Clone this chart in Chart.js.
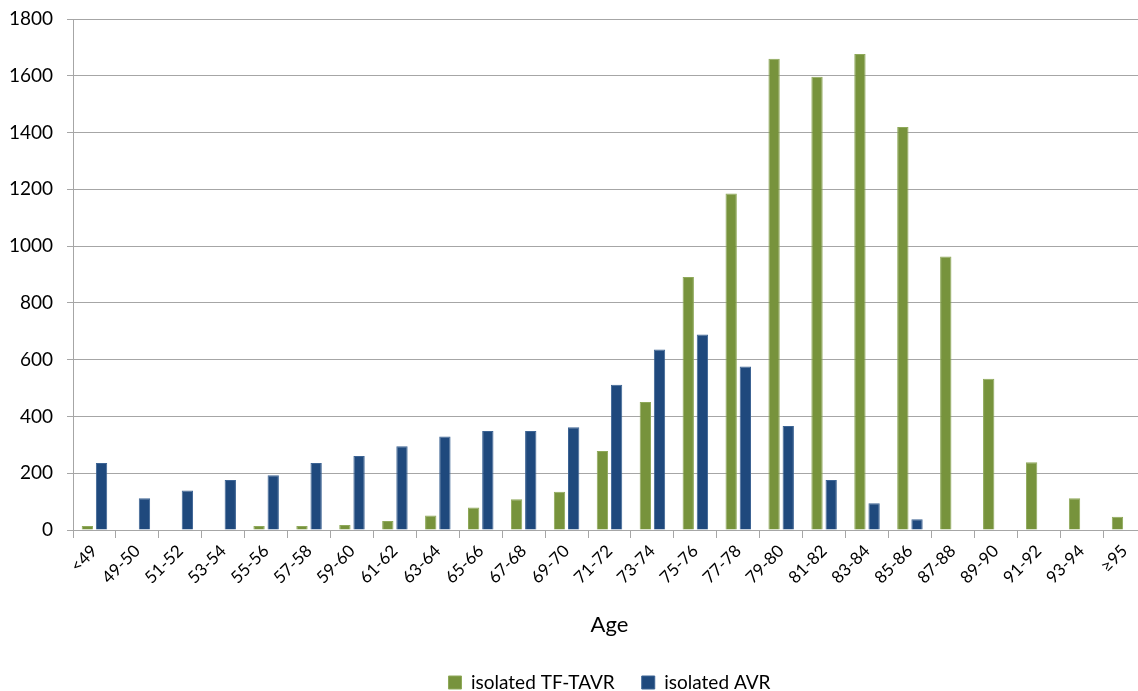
<!DOCTYPE html>
<html>
<head>
<meta charset="utf-8">
<script src="https://cdn.jsdelivr.net/npm/chart.js@4"></script>
<style>
  html, body { margin: 0; padding: 0; background: #fff; overflow: hidden; }
  #wrap { width: 1150px; height: 691px; }
</style>
</head>
<body>
<div id="wrap"><canvas id="ageChart"></canvas></div>
<script>
// age groups
const ageGroups = ['<49', '49-50', '51-52', '53-54', '55-56', '57-58', '59-60', '61-62', '63-64',
  '65-66', '67-68', '69-70', '71-72', '73-74', '75-76', '77-78', '79-80', '81-82', '83-84',
  '85-86', '87-88', '89-90', '91-92', '93-94', '≥95'];

// counts
const tavrValues = [14, 0, 0, 0, 14, 14, 18, 32, 51, 79, 108, 135, 278, 451, 891, 1185, 1660,
  1597, 1677, 1420, 963, 533, 239, 112, 47];
const avrValues = [236, 112, 139, 176, 193, 236, 261, 295, 329, 349, 349, 362, 512, 636, 689,
  576, 366, 176, 94, 38, 0, 0, 0, 0, 0];

const yTicks = [0, 200, 400, 600, 800, 1000, 1200, 1400, 1600, 1800];

const fontName = 'Lato, "Open Sans", sans-serif';
const gridColor = '#a6a6a6';

new Chart(document.getElementById('ageChart'), {
  type: 'bar',
  data: {
    labels: ageGroups,
    datasets: [
      {
        label: 'isolated TF-TAVR',
        data: tavrValues,
        backgroundColor: '#77933c',
        borderColor: '#8fa95a',
        borderWidth: 1
      },
      {
        label: 'isolated AVR',
        data: avrValues,
        backgroundColor: '#1f497d',
        borderColor: '#3d6494',
        borderWidth: 1
      }
    ]
  },
  options: {
    responsive: true,
    maintainAspectRatio: false,
    animation: false,
    categoryPercentage: 0.66,
    barPercentage: 0.8,
    layout: { padding: { top: 19, right: 4, left: 0, bottom: -11 } },
    plugins: {
      legend: {
        position: 'bottom',
        fullSize: false,
        labels: {
          color: '#000',
          font: { family: fontName, size: 19 },
          boxWidth: 13,
          boxHeight: 13,
          padding: 27
        }
      },
      tooltip: { enabled: false }
    },
    scales: {
      x: {
        afterFit: scale => {
          scale.height = 116;
        },
        grid: {
          drawOnChartArea: false,
          color: gridColor,
          tickLength: 8
        },
        border: { color: gridColor },
        ticks: {
          color: '#000',
          font: { family: fontName, size: 17 },
          minRotation: 45,
          maxRotation: 45,
          autoSkip: false
        },
        title: {
          display: true,
          text: 'Age',
          color: '#000',
          font: { family: fontName, size: 22 },
          padding: { top: 10, bottom: 8 }
        }
      },
      y: {
        min: 0,
        max: 1800,
        afterBuildTicks: scale => {
          scale.ticks = yTicks.map(v => ({ value: v }));
        },
        afterFit: scale => {
          scale.width = 73;
        },
        grid: {
          color: gridColor,
          tickLength: 6
        },
        border: { color: gridColor },
        ticks: {
          color: '#000',
          font: { family: fontName, size: 19, lineHeight: 0.5 },
          padding: 14,
          callback: v => String(v)
        }
      }
    }
  }
});
</script>
</body>
</html>
